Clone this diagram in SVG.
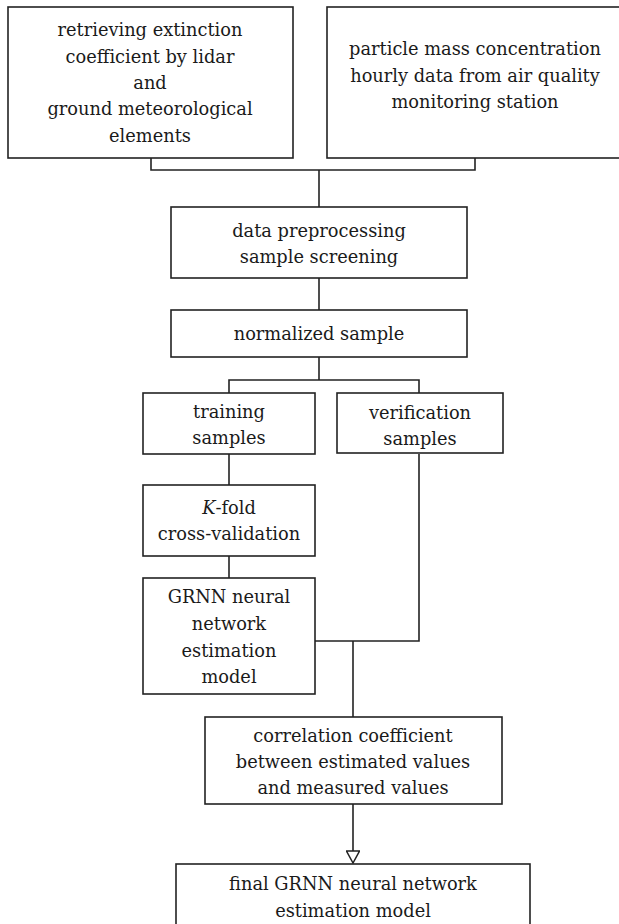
<svg xmlns="http://www.w3.org/2000/svg" width="619" height="924" viewBox="0 0 619 924">
<defs>
<style>
.box{fill:#fff;stroke:#222;stroke-width:1.6}
.t{font-family:"DejaVu Serif","Liberation Serif",serif;font-size:17.8px;fill:#1a1a1a;text-anchor:middle}
.c{fill:none;stroke:#222;stroke-width:1.6}
</style>
<marker id="arr" markerWidth="16" markerHeight="14" refX="13" refY="7" orient="auto" markerUnits="userSpaceOnUse">
<path d="M1,0.5 L13,7 L1,13.5 Z" fill="#fff" stroke="#222" stroke-width="1.5"/>
</marker>
</defs>
<rect width="619" height="924" fill="#fff"/>
<g id="connectors">
<polyline class="c" points="151,158 151,170 475,170 475,158"/>
<line class="c" x1="319" y1="170" x2="319" y2="207"/>
<line class="c" x1="319" y1="278" x2="319" y2="310"/>
<line class="c" x1="319" y1="357" x2="319" y2="380"/>
<polyline class="c" points="229,393 229,380 419,380 419,393"/>
<line class="c" x1="229" y1="454" x2="229" y2="485"/>
<line class="c" x1="229" y1="556" x2="229" y2="578"/>
<polyline class="c" points="315,641 419,641 419,454"/>
<line class="c" x1="353" y1="641" x2="353" y2="717"/>
<line class="c" x1="353" y1="804" x2="353" y2="863" marker-end="url(#arr)"/>
</g>
<g id="n1">
<rect class="box" x="8" y="7" width="285" height="151"/>
<text class="t" x="150" y="36">retrieving extinction</text>
<text class="t" x="150" y="63">coefficient by lidar</text>
<text class="t" x="150" y="89">and</text>
<text class="t" x="150" y="115">ground meteorological</text>
<text class="t" x="150" y="142">elements</text>
</g>
<g id="n2">
<rect class="box" x="327" y="7" width="296" height="151"/>
<text class="t" x="475" y="55">particle mass concentration</text>
<text class="t" x="475" y="82">hourly data from air quality</text>
<text class="t" x="475" y="108">monitoring station</text>
</g>
<g id="n3">
<rect class="box" x="171" y="207" width="296" height="71"/>
<text class="t" x="319" y="237">data preprocessing</text>
<text class="t" x="319" y="263">sample screening</text>
</g>
<g id="n4">
<rect class="box" x="171" y="310" width="296" height="47"/>
<text class="t" x="319" y="340">normalized sample</text>
</g>
<g id="n5">
<rect class="box" x="143" y="393" width="172" height="61"/>
<text class="t" x="229" y="418">training</text>
<text class="t" x="229" y="444">samples</text>
</g>
<g id="n6">
<rect class="box" x="337" y="393" width="166" height="60"/>
<text class="t" x="420" y="419">verification</text>
<text class="t" x="420" y="445">samples</text>
</g>
<g id="n7">
<rect class="box" x="143" y="485" width="172" height="71"/>
<text class="t" x="229" y="514"><tspan font-style="italic">K</tspan>-fold</text>
<text class="t" x="229" y="540">cross-validation</text>
</g>
<g id="n8">
<rect class="box" x="143" y="578" width="172" height="116"/>
<text class="t" x="229" y="603">GRNN neural</text>
<text class="t" x="229" y="630">network</text>
<text class="t" x="229" y="657">estimation</text>
<text class="t" x="229" y="683">model</text>
</g>
<g id="n9">
<rect class="box" x="205" y="717" width="297" height="87"/>
<text class="t" x="353" y="742">correlation coefficient</text>
<text class="t" x="353" y="768">between estimated values</text>
<text class="t" x="353" y="794">and measured values</text>
</g>
<g id="n10">
<rect class="box" x="176" y="864" width="354" height="64"/>
<text class="t" x="353" y="890">final GRNN neural network</text>
<text class="t" x="353" y="917">estimation model</text>
</g>
</svg>
